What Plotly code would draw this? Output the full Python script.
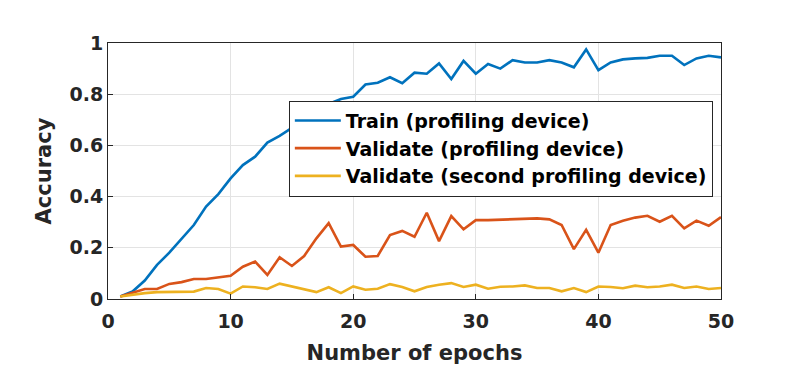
import plotly.graph_objects as go

epochs = list(range(1, 51))
train_profiling = [0.01, 0.029, 0.072, 0.133, 0.181, 0.237, 0.289, 0.361, 0.41, 0.471,
                   0.523, 0.556, 0.611, 0.637, 0.67, 0.70, 0.73, 0.762, 0.781, 0.79,
                   0.838, 0.845, 0.866, 0.843, 0.884, 0.88, 0.92, 0.859, 0.93, 0.88,
                   0.918, 0.9, 0.933, 0.924, 0.924, 0.933, 0.924, 0.905, 0.975, 0.894,
                   0.924, 0.936, 0.94, 0.942, 0.95, 0.95, 0.914, 0.94, 0.95, 0.944]
validate_profiling = [0.01, 0.023, 0.039, 0.039, 0.059, 0.066, 0.078, 0.078, 0.085, 0.091,
                      0.126, 0.146, 0.094, 0.163, 0.129, 0.168, 0.237, 0.296, 0.205, 0.211,
                      0.165, 0.168, 0.25, 0.266, 0.243, 0.337, 0.226, 0.324, 0.272, 0.308,
                      0.308, 0.31, 0.313, 0.315, 0.315, 0.311, 0.289, 0.195, 0.27, 0.181,
                      0.289, 0.306, 0.318, 0.325, 0.302, 0.325, 0.276, 0.306, 0.286, 0.32]
validate_second = [0.01, 0.017, 0.023, 0.027, 0.027, 0.029, 0.029, 0.043, 0.039, 0.021,
                   0.049, 0.046, 0.039, 0.06, 0.049, 0.039, 0.027, 0.046, 0.023, 0.049,
                   0.036, 0.04, 0.058, 0.047, 0.03, 0.047, 0.056, 0.062, 0.047, 0.056,
                   0.04, 0.048, 0.049, 0.053, 0.043, 0.043, 0.03, 0.043, 0.027, 0.049,
                   0.047, 0.042, 0.052, 0.046, 0.049, 0.056, 0.043, 0.049, 0.039, 0.043]

series_names = ["Train (profiling device)", "Validate (profiling device)",
                "Validate (second profiling device)"]
series_colors = ["#0072BD", "#D95319", "#EDB120"]
x_ticks = [0, 10, 20, 30, 40, 50]
y_ticks = [0, 0.2, 0.4, 0.6, 0.8, 1]
y_tick_labels = ["0", "0.2", "0.4", "0.6", "0.8", "1"]

FONT = "DejaVu Sans"

fig = go.Figure()
for name, ys, col in zip(series_names, [train_profiling, validate_profiling, validate_second], series_colors):
    fig.add_trace(go.Scatter(x=epochs, y=ys, mode="lines", name=name,
                             line=dict(color=col, width=2.6)))

axis_common = dict(showgrid=True, gridcolor="#e3e3e3", gridwidth=1,
                   showline=True, linecolor="#262626", linewidth=1, mirror=True,
                   ticks="inside", ticklen=5, tickcolor="#262626", zeroline=False,
                   tickfont=dict(family=FONT, size=19, color="#262626", weight="bold"))

fig.update_xaxes(range=[0, 50], tickvals=x_ticks, ticklabelstandoff=5,
                 title=dict(text="Number of epochs", standoff=14,
                            font=dict(family=FONT, size=21, color="#262626", weight="bold")),
                 **axis_common)
fig.update_yaxes(range=[0, 1], tickvals=y_ticks, ticktext=y_tick_labels,
                 title=dict(text="Accuracy", standoff=12,
                            font=dict(family=FONT, size=21, color="#262626", weight="bold")),
                 **axis_common)

fig.update_layout(
    width=793, height=381,
    margin=dict(l=100, r=80, t=35, b=90),
    plot_bgcolor="white", paper_bgcolor="white",
    legend=dict(x=0.295, y=0.775, xanchor="left", yanchor="top",
                bgcolor="white", bordercolor="#262626", borderwidth=1,
                font=dict(family=FONT, size=19, color="black", weight="bold"),
                itemwidth=46, tracegroupgap=0),
)

fig.write_html("out.html")
